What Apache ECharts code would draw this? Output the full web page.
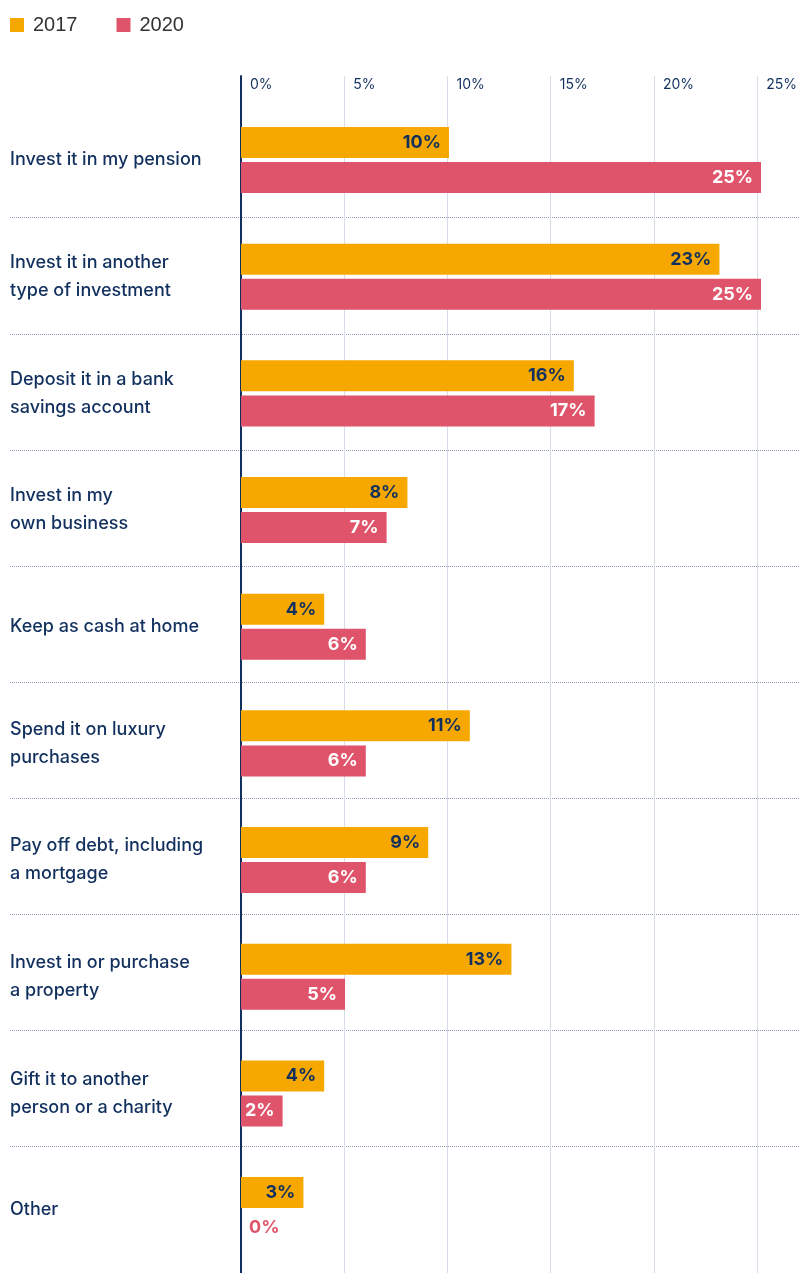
<!DOCTYPE html>
<html>
<head>
<meta charset="utf-8">
<script src="https://cdn.jsdelivr.net/npm/echarts@6/dist/echarts.min.js"></script>
<style>
  html, body { margin: 0; padding: 0; background: #fff; }
  #chart { width: 800px; height: 1273px; }
</style>
</head>
<body>
<div id="chart"></div>
<script>
// categories, top to bottom
const categories = [
  'Invest it in my pension',
  'Invest it in another\ntype of investment',
  'Deposit it in a bank\nsavings account',
  'Invest in my\nown business',
  'Keep as cash at home',
  'Spend it on luxury\npurchases',
  'Pay off debt, including\na mortgage',
  'Invest in or purchase\na property',
  'Gift it to another\nperson or a charity',
  'Other'
]
const values2017 = [10, 23, 16, 8, 4, 11, 9, 13, 4, 3]
const values2020 = [25, 25, 17, 7, 6, 6, 6, 5, 2, 0]
const tickValues = [0, 5, 10, 15, 20, 25]

const NAVY = '#12305e'
const ORANGE = '#f6a800'
const RED = '#e0546b'
const FONT = 'Inter, "Noto Sans", sans-serif'

const chart = echarts.init(document.getElementById('chart'))

const barLabel = (color) => ({
  show: true,
  position: 'insideRight',
  distance: 8,
  formatter: '{c}%',
  color: color,
  fontFamily: FONT,
  fontWeight: 'bold',
  fontSize: 18
})

chart.setOption({
  animation: false,
  legend: {
    left: 10,
    top: 15,
    padding: 0,
    icon: 'rect',
    itemWidth: 14,
    itemHeight: 14,
    itemGap: 39,
    data: ['2017', '2020'],
    textStyle: {
      color: '#333',
      fontSize: 20,
      fontFamily: '"Liberation Sans", Arial, sans-serif',
      padding: [0, 0, 0, 4]
    }
  },
  grid: [
    // bars + category labels
    { left: 241, right: 39, top: 101.7, height: 1166.7 },
    // vertical gridlines + top tick labels + axis line
    { left: 241, right: 39, top: 76, bottom: 0 },
    // dotted separators
    { left: 10, right: 0, top: 101.6, height: 1161 }
  ],
  xAxis: [
    { gridIndex: 0, type: 'value', min: 0, max: 25, show: false },
    {
      gridIndex: 1,
      type: 'value',
      position: 'top',
      min: 0,
      max: 25,
      interval: 5,
      axisLine: { show: false },
      axisTick: { show: false },
      splitLine: { lineStyle: { color: '#d6dce8', width: 1 } },
      axisLabel: {
        inside: true,
        margin: 2,
        align: 'left',
        verticalAlign: 'top',
        padding: [0, 0, 0, 9],
        color: NAVY,
        fontFamily: FONT,
        fontSize: 14,
        formatter: (v) => tickValues.includes(v) ? v + '%' : ''
      }
    },
    { gridIndex: 2, type: 'value', show: false }
  ],
  yAxis: [
    {
      gridIndex: 0,
      type: 'category',
      inverse: true,
      data: categories,
      axisLine: { show: false },
      axisTick: { show: false },
      splitLine: { show: false },
      axisLabel: {
        margin: 231,
        align: 'left',
        color: NAVY,
        fontFamily: FONT,
        fontSize: 18,
        fontWeight: 500,
        lineHeight: 28
      }
    },
    {
      gridIndex: 1,
      type: 'value',
      axisLine: { show: true, lineStyle: { color: NAVY, width: 2 } },
      axisTick: { show: false },
      axisLabel: { show: false },
      splitLine: { show: false }
    },
    {
      gridIndex: 2,
      type: 'category',
      inverse: true,
      data: categories,
      axisLine: { show: false },
      axisTick: { show: false },
      axisLabel: { show: false },
      splitLine: {
        show: true,
        showMinLine: false,
        showMaxLine: false,
        lineStyle: { color: '#8a98b3', type: [1, 1], width: 1 }
      }
    }
  ],
  series: [
    {
      name: '2017',
      type: 'bar',
      xAxisIndex: 0,
      yAxisIndex: 0,
      data: values2017,
      barWidth: 31,
      barGap: '13%',
      itemStyle: { color: ORANGE },
      label: barLabel(NAVY),
      z: 3
    },
    {
      name: '2020',
      type: 'bar',
      xAxisIndex: 0,
      yAxisIndex: 0,
      data: values2020.map(v => v === 0
        ? { value: v, label: { position: 'right', color: RED } }
        : v),
      barWidth: 31,
      barGap: '13%',
      itemStyle: { color: RED },
      label: barLabel('#fff'),
      z: 3
    }
  ]
})
</script>
</body>
</html>
